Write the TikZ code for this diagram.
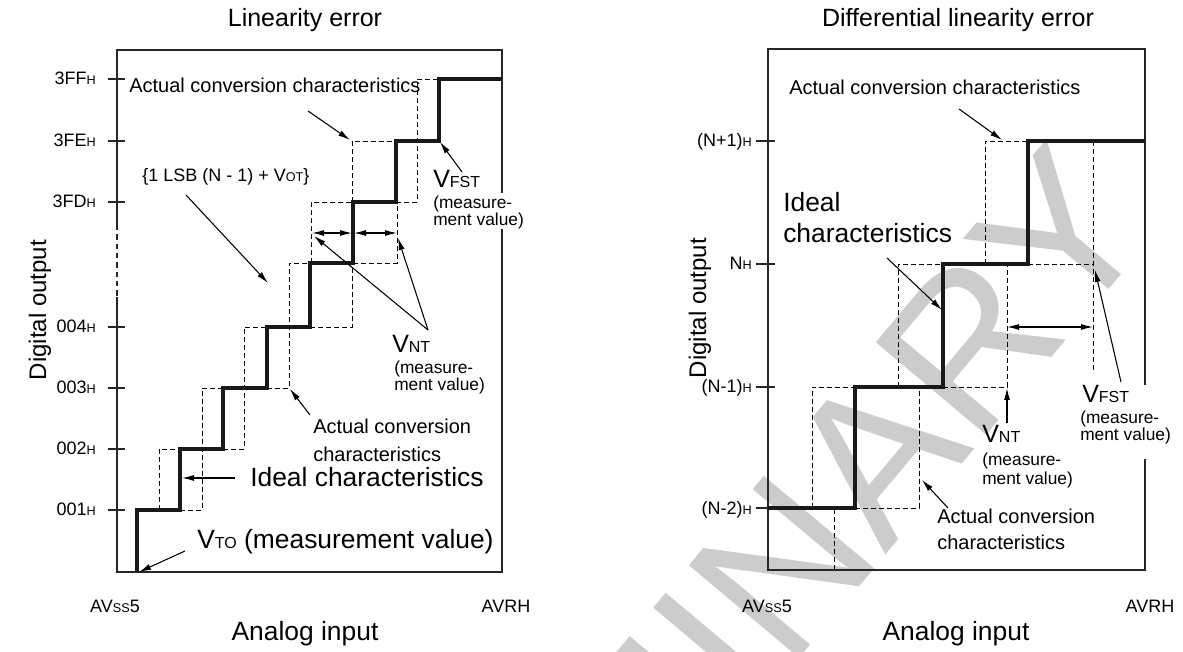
\documentclass[tikz,border=0pt]{standalone}
\usepackage{fontspec}
\setmainfont{Liberation Sans}
\usetikzlibrary{arrows.meta}
\newcommand\fBig{\fontsize{19.8pt}{22pt}\selectfont}
\newcommand\fAxis{\fontsize{18pt}{20pt}\selectfont}
\newcommand\fTitle{\fontsize{18.75pt}{21pt}\selectfont}
\newcommand\fMid{\fontsize{15pt}{18pt}\selectfont}
\newcommand\fV{\fontsize{18.75pt}{20pt}\selectfont}
\newcommand\fVsub{\fontsize{12pt}{14pt}\selectfont}
\newcommand\fMeas{\fontsize{13pt}{13pt}\selectfont}
\newcommand\fTick{\fontsize{13.5pt}{15pt}\selectfont}
\newcommand\fTiny{\fontsize{9.5pt}{10pt}\selectfont}
\newcommand\Hsub{{\fTiny H}}
\newcommand\fWM{\fontsize{157pt}{157pt}\selectfont}
\tikzset{
  frame/.style={line width=1pt,black!85},
  ideal/.style={line width=2.5pt,black!90,line join=miter},
  actual/.style={line width=0.7pt,dash pattern=on 3.5pt off 2.5pt},
  ptr/.style={line width=0.8pt,-{Latex[length=9pt,width=4.5pt]}},
  dptr/.style={line width=0.8pt,{Latex[length=9pt,width=4.5pt]}-{Latex[length=9pt,width=4.5pt]}},
  tickmark/.style={line width=1pt,black!85},
  lbl/.style={anchor=base west,inner sep=0pt},
  ticklbl/.style={anchor=base east,inner sep=0pt}
}
\begin{document}
\begin{tikzpicture}[x=0.75pt,y=-0.75pt]
\useasboundingbox (0,0) rectangle (1183,652);
% watermark
\begin{scope}
\clip (0,0) rectangle (1183,652);
\node[rotate=50,anchor=base west,text=black!20,font=\fWM,inner sep=0pt] (wm) at (250,1313) {PRELIMINARY};
\end{scope}

% ---- left graph: linearity error
\node[anchor=base,inner sep=0pt] (ltitle) at (305,27) {\fTitle Linearity error};
\draw[frame] (117,225)--(117,50)--(502,50)--(502,193);
\draw[frame] (502,229)--(502,572)--(117,572)--(117,297);
\draw[frame,dash pattern=on 4pt off 3pt] (117,225)--(117,297);
\foreach \y in {79,141,202,327,388,449,510} \draw[tickmark] (108,\y)--(125,\y);
\foreach \y/\t in {79/3FF,141/3FE,202/3FD,327/004,388/003,449/002,510/001}
  \node[ticklbl] (lt\t) at (96,\y+6) {\fTick\t\Hsub};
\node[anchor=base,inner sep=0pt] (lavss) at (115,612) {\fTick AV{\fTiny SS}5};
\node[anchor=base,inner sep=0pt] (lavrh) at (506,612) {\fTick AVRH};
\node[anchor=base,inner sep=0pt] (lxlab) at (305,640) {\fBig Analog input};
\node[rotate=90,inner sep=0pt] (lylab) at (40,310) {\fAxis Digital output};

% actual conversion characteristics
\draw[actual] (159,510)--(159,449)--(180,449)
  (180,510)--(202,510)--(202,388)--(223,388)
  (223,449)--(244,449)--(244,327)--(267,327)
  (267,388)--(289,388)--(289,263)--(310,263)
  (310,327)--(352,327)--(352,263)
  (311,263)--(311,202)--(353,202)
  (353,263)--(397,263)--(397,202)
  (352,202)--(352,141)--(396,141)
  (396,202)--(417,202)--(417,79)--(439,79);
% ideal characteristics
\draw[ideal] (137,572)--(137,510)--(180,510)--(180,449)--(223,449)--(223,388)
  --(267,388)--(267,327)--(310,327)--(310,263)--(353,263)--(353,202)
  --(396,202)--(396,141)--(439,141)--(439,79)--(502,79);

\node[lbl] (lact) at (129,93) {\fMid Actual conversion characteristics};
\node[lbl] (llsb) at (142,182) {\fTick\{1 LSB (N - 1) + V{\fTiny OT}\}};
\node[lbl] (lvfst) at (433,188) {\fV V{\fVsub FST}};
\node[lbl] (lvfst1) at (433,209) {\fMeas(measure-};
\node[lbl] (lvfst2) at (433,226) {\fMeas ment value)};
\node[lbl] (lvnt) at (392,353) {\fV V{\fVsub NT}};
\node[lbl] (lvnt1) at (394,374) {\fMeas(measure-};
\node[lbl] (lvnt2) at (394,391) {\fMeas ment value)};
\node[lbl] (lact2) at (313,434) {\fMid Actual conversion};
\node[lbl] (lact3) at (313,462) {\fMid characteristics};
\node[lbl] (lideal) at (250,487) {\fBig Ideal characteristics};
\node[lbl] (lvto) at (197,548) {\fBig V{\fVsub TO} (measurement value)};

\coordinate (la1) at (308,111); \coordinate (la1e) at (350,140);
\coordinate (lb1) at (186,195); \coordinate (lb1e) at (268,283);
\coordinate (lc1) at (462,172); \coordinate (lc1e) at (440,142);
\coordinate (ld1) at (312,233); \coordinate (ld2) at (352,233);
\coordinate (ld3) at (354,233); \coordinate (ld4) at (397,233);
\coordinate (le1) at (428,330); \coordinate (le1e) at (314,236); \coordinate (le2e) at (398,238);
\coordinate (lf1) at (310,415); \coordinate (lf1e) at (290,389);
\coordinate (lg1) at (235,478); \coordinate (lg1e) at (182,478);
\coordinate (lh1) at (185,551); \coordinate (lh1e) at (139,572);
\draw[ptr] (la1)--(la1e);
\draw[ptr] (lb1)--(lb1e);
\draw[ptr] (lc1)--(lc1e);
\draw[dptr] (ld1)--(ld2);
\draw[dptr] (ld3)--(ld4);
\draw[ptr] (le1)--(le1e);
\draw[ptr] (le1)--(le2e);
\draw[ptr] (lf1)--(lf1e);
\draw[ptr] (lg1)--(lg1e);
\draw[ptr] (lh1)--(lh1e);

% ---- right graph: differential linearity error
\node[anchor=base,inner sep=0pt] (rtitle) at (958,27) {\fTitle Differential linearity error};
\draw[frame] (1145,385)--(1145,49)--(768,49)--(768,570)--(1145,570)--(1145,459);
\foreach \y in {141,264,387,508} \draw[tickmark] (756,\y)--(775,\y);
\foreach \y/\t/\n in {141/(N+1)/a,264/N/b,387/(N-1)/c,508/(N-2)/d}
  \node[ticklbl] (rt\n) at (752,\y+6) {\fTick\t\Hsub};
\node[anchor=base,inner sep=0pt] (ravss) at (767,612) {\fTick AV{\fTiny SS}5};
\node[anchor=base,inner sep=0pt] (ravrh) at (1150,612) {\fTick AVRH};
\node[anchor=base,inner sep=0pt] (rxlab) at (956,640) {\fBig Analog input};
\node[rotate=90,inner sep=0pt] (rylab) at (700,308) {\fAxis Digital output};

% actual conversion characteristics
\draw[actual] (812,508)--(812,387)--(855,387)
  (834,570)--(834,508)
  (855,508)--(919,508)--(919,387)
  (898,387)--(898,264)--(943,264)
  (943,387)--(1007,387)--(1007,264)
  (985,264)--(985,141)--(1028,141)
  (1028,264)--(1093,264)
  (1093,141)--(1093,373);
% ideal characteristics
\draw[ideal] (768,508)--(855,508)--(855,387)--(943,387)--(943,264)--(1028,264)
  --(1028,141)--(1145,141);

\node[lbl] (ract) at (789,95) {\fMid Actual conversion characteristics};
\node[lbl] (rideal1) at (783,212) {\fBig Ideal};
\node[lbl] (rideal2) at (783,243) {\fBig characteristics};
\node[lbl] (rvfst) at (1082,403) {\fV V{\fVsub FST}};
\node[lbl] (rvfst1) at (1080,424) {\fMeas(measure-};
\node[lbl] (rvfst2) at (1080,441) {\fMeas ment value)};
\node[lbl] (rvnt) at (982,443) {\fV V{\fVsub NT}};
\node[lbl] (rvnt1) at (982,466) {\fMeas(measure-};
\node[lbl] (rvnt2) at (982,484) {\fMeas ment value)};
\node[lbl] (ract2) at (937,523) {\fMid Actual conversion};
\node[lbl] (ract3) at (937,549) {\fMid characteristics};

\coordinate (ra1) at (959,109); \coordinate (ra1e) at (1002,140);
\coordinate (rb1) at (887,258); \coordinate (rb1e) at (942,310);
\coordinate (rc1) at (1007,327); \coordinate (rc2) at (1093,327);
\coordinate (rd1) at (1007,423); \coordinate (rd1e) at (1007,388);
\coordinate (re1) at (1121,382); \coordinate (re1e) at (1095,270);
\coordinate (rf1) at (948,508); \coordinate (rf1e) at (922,480);
\draw[ptr] (ra1)--(ra1e);
\draw[ptr] (rb1)--(rb1e);
\draw[dptr] (rc1)--(rc2);
\draw[ptr] (rd1)--(rd1e);
\draw[ptr] (re1)--(re1e);
\draw[ptr] (rf1)--(rf1e);
\end{tikzpicture}
\end{document}
